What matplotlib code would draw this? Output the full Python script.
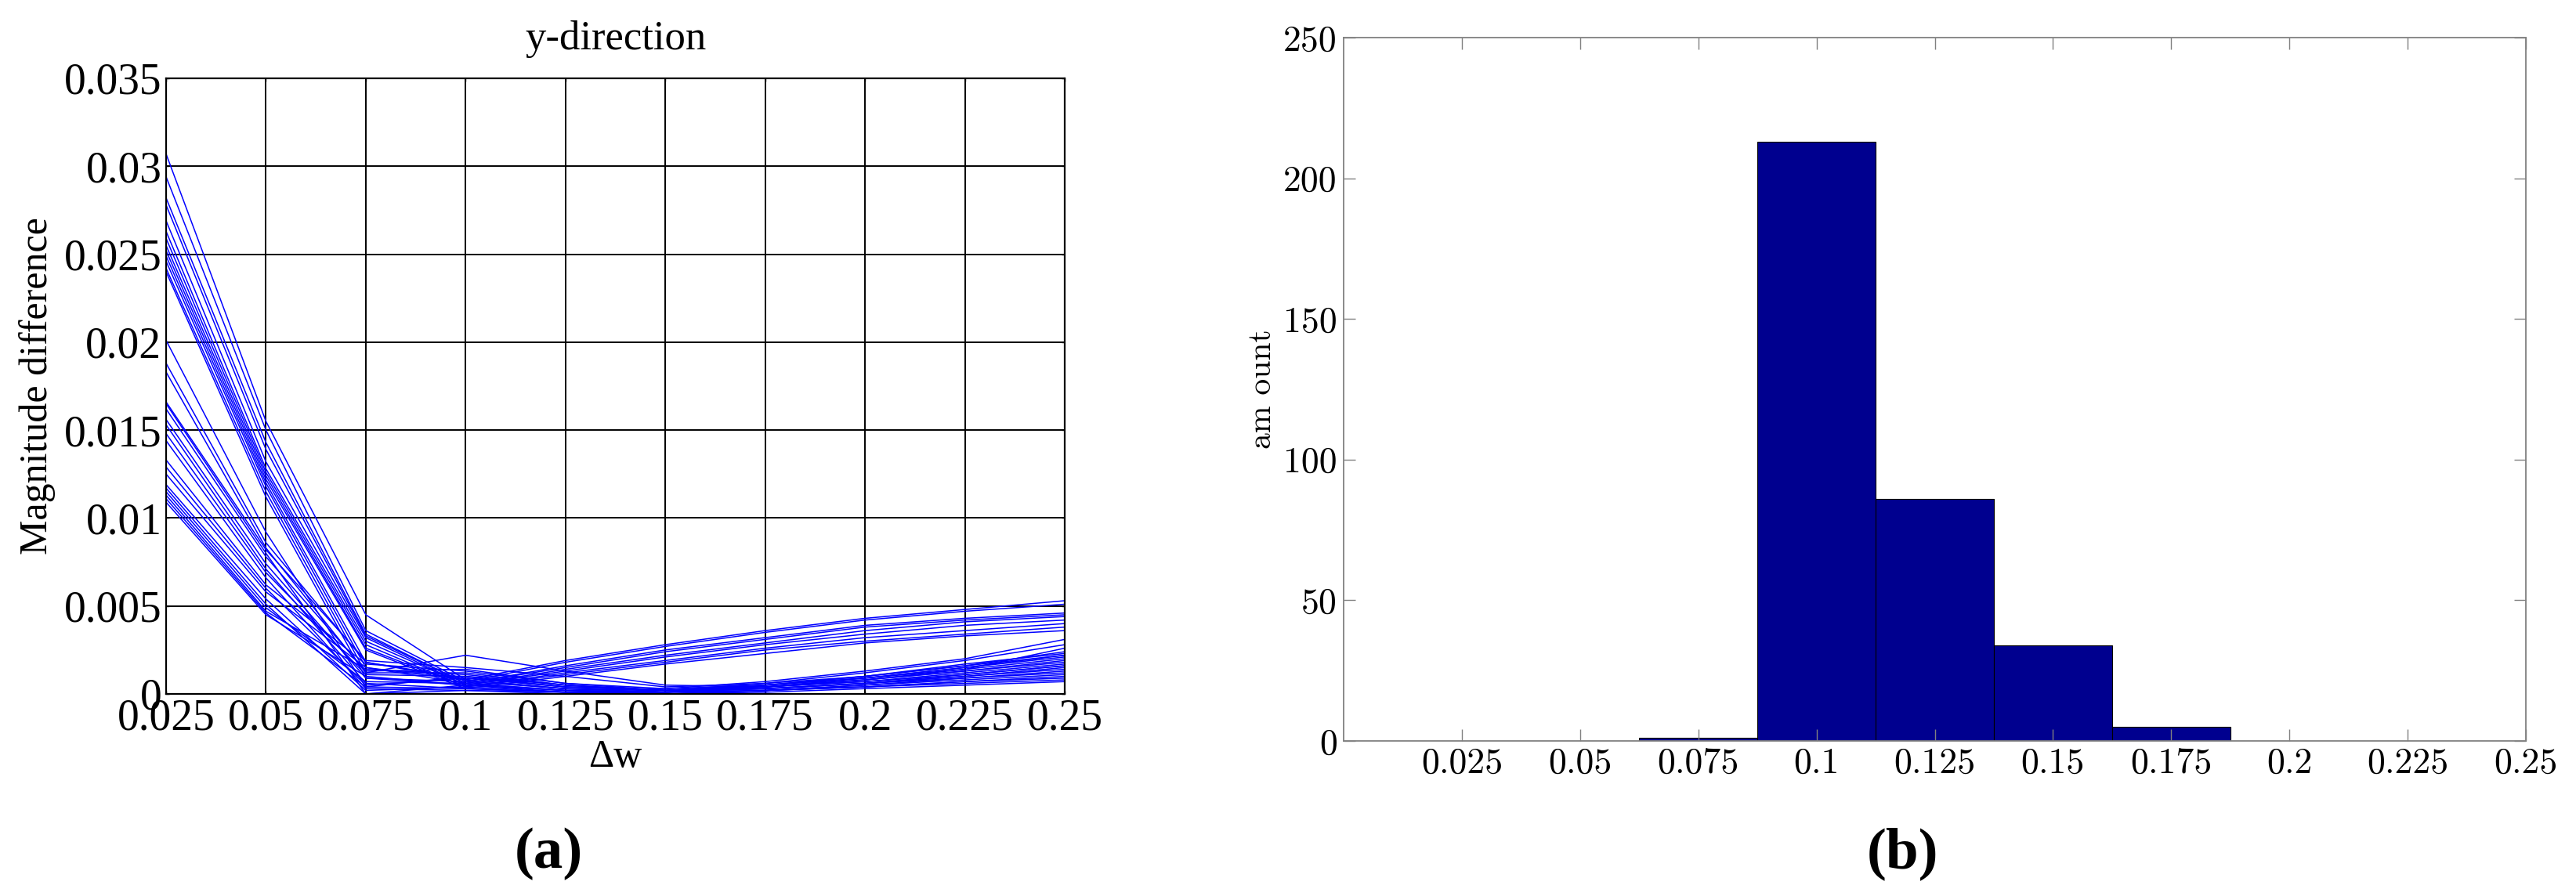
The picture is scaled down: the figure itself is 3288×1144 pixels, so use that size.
import numpy as np
import matplotlib
matplotlib.use("Agg")
import matplotlib.pyplot as plt

# ---- data (a): magnitude difference curves, values in units of 1e-3 ----
dw = [0.025, 0.05, 0.075, 0.1, 0.125, 0.15, 0.175, 0.2, 0.225, 0.25]
mag_diff_e3 = [
    [30.7, 15.5, 4.5, 0.8, 1.9, 2.8, 3.6, 4.3, 4.8, 5.3],
    [29.4, 15.0, 3.6, 0.7, 1.8, 2.7, 3.5, 4.2, 4.7, 5.1],
    [28.2, 14.3, 3.4, 0.6, 1.6, 2.5, 3.2, 3.9, 4.3, 4.6],
    [27.8, 13.9, 3.3, 0.6, 1.5, 2.4, 3.1, 3.8, 4.2, 4.5],
    [26.9, 13.2, 3.2, 0.5, 1.4, 2.2, 2.9, 3.6, 4.1, 4.4],
    [26.3, 12.8, 3.0, 0.5, 1.3, 2.1, 2.8, 3.4, 3.9, 4.2],
    [25.9, 12.6, 2.8, 0.4, 1.2, 1.9, 2.6, 3.2, 3.6, 4.0],
    [25.5, 12.4, 2.6, 0.4, 1.1, 1.8, 2.5, 3.0, 3.4, 3.8],
    [25.2, 12.2, 2.5, 0.3, 1.0, 1.7, 2.3, 2.9, 3.3, 3.6],
    [24.9, 12.0, 1.8, 0.9, 0.4, 0.2, 0.6, 1.2, 1.9, 2.8],
    [24.6, 11.8, 1.5, 0.6, 0.2, 0.3, 0.7, 1.3, 2.0, 3.1],
    [24.2, 11.5, 1.2, 1.2, 0.5, 0.1, 0.4, 0.9, 1.5, 2.2],
    [24.0, 11.2, 0.9, 0.7, 0.3, 0.1, 0.5, 1.0, 1.6, 2.4],
    [20.1, 9.2, 0.4, 1.0, 0.5, 0.2, 0.5, 0.9, 1.4, 2.0],
    [18.8, 8.6, 1.8, 0.8, 0.3, 0.1, 0.4, 0.8, 1.3, 1.8],
    [18.3, 8.3, 1.2, 2.2, 1.3, 0.5, 0.4, 0.7, 1.1, 1.6],
    [16.5, 8.0, 0.0, 0.5, 0.1, 0.0, 0.2, 0.5, 0.9, 1.3],
    [16.2, 7.8, 1.3, 1.4, 0.6, 0.2, 0.3, 0.6, 1.0, 1.5],
    [15.6, 7.4, 0.9, 0.5, 0.2, 0.0, 0.2, 0.4, 0.7, 1.0],
    [15.3, 7.1, 0.6, 0.3, 0.1, 0.1, 0.3, 0.6, 0.9, 1.2],
    [14.8, 6.9, 1.1, 1.0, 0.4, 0.2, 0.4, 0.7, 1.2, 1.7],
    [14.4, 6.6, 0.3, 0.2, 0.0, 0.1, 0.2, 0.4, 0.6, 0.8],
    [13.3, 6.2, 1.7, 1.3, 0.6, 0.3, 0.5, 0.9, 1.5, 2.1],
    [12.5, 5.8, 1.5, 0.8, 0.3, 0.2, 0.4, 0.8, 1.3, 1.9],
    [12.9, 6.0, 0.5, 0.9, 0.4, 0.2, 0.5, 1.0, 1.7, 2.3],
    [11.9, 5.4, 0.2, 0.4, 0.1, 0.0, 0.1, 0.3, 0.5, 0.7],
    [11.7, 5.1, 0.0, 0.2, 0.1, 0.1, 0.3, 0.6, 1.0, 1.4],
    [11.5, 4.9, 0.7, 0.6, 0.2, 0.1, 0.2, 0.5, 0.8, 1.1],
    [11.3, 4.7, 1.4, 1.1, 0.5, 0.2, 0.3, 0.6, 1.1, 1.6],
    [11.1, 4.6, 0.4, 0.3, 0.1, 0.0, 0.2, 0.4, 0.7, 0.9],
    [10.9, 4.5, 1.0, 0.5, 0.2, 0.1, 0.4, 0.8, 1.4, 2.6],
    [16.6, 8.2, 1.9, 1.5, 1.0, 0.4, 0.6, 1.0, 1.6, 2.2],
]
left_xticklabels = ['0.025', '0.05', '0.075', '0.1', '0.125', '0.15',
                    '0.175', '0.2', '0.225', '0.25']
left_yticks = [0, 0.005, 0.01, 0.015, 0.02, 0.025, 0.03, 0.035]
left_yticklabels = ['0', '0.005', '0.01', '0.015', '0.02', '0.025', '0.03', '0.035']

# ---- data (b): histogram of amounts ----
bin_centers = [0.075, 0.1, 0.125, 0.15, 0.175]
bin_counts = [1, 213, 86, 34, 5]
bin_width = 0.025
right_xticks = [0.025, 0.05, 0.075, 0.1, 0.125, 0.15, 0.175, 0.2, 0.225, 0.25]
right_xticklabels = ['0.025', '0.05', '0.075', '0.1', '0.125', '0.15',
                     '0.175', '0.2', '0.225', '0.25']
right_yticks = [0, 50, 100, 150, 200, 250]

W, H = 3288, 1144
fig = plt.figure(figsize=(W / 100, H / 100), dpi=100)

# ---------------- panel (a) ----------------
ax1 = fig.add_axes([212 / W, 1 - 886 / H, (1359 - 212) / W, (886 - 100) / H])
for row in mag_diff_e3:
    ax1.plot(dw, np.array(row) / 1000.0, color='#0000FF', lw=1.1)
ax1.set_xlim(0.025, 0.25)
ax1.set_ylim(0, 0.035)
ax1.set_xticks(dw)
ax1.set_xticklabels(left_xticklabels)
ax1.set_yticks(left_yticks)
ax1.set_yticklabels(left_yticklabels)
ax1.set_axisbelow(True)
ax1.grid(True, color='black', lw=1.4)
for sp in ax1.spines.values():
    sp.set_color('black')
    sp.set_linewidth(1.6)
ax1.tick_params(direction='in', length=3, width=1, top=True, right=True,
                pad=4, labelsize=40)
for lab in ax1.get_xticklabels() + ax1.get_yticklabels():
    lab.set_family('Liberation Serif')
ax1.set_title('y-direction', family='Liberation Serif', fontsize=38, pad=27)
ax1.set_xlabel('\u0394w', family='Liberation Serif', fontsize=36, labelpad=0)
ax1.set_ylabel('Magnitude difference', family='Liberation Serif',
               fontsize=36, labelpad=8)

# ---------------- panel (b) ----------------
gray = '#808080'
ax2 = fig.add_axes([1715 / W, 1 - 946 / H, (3224 - 1715) / W, (946 - 48) / H])
ax2.bar(bin_centers, bin_counts, width=bin_width, color='#00008F',
        edgecolor='black', linewidth=0.8)
ax2.set_xlim(0, 0.25)
ax2.set_ylim(0, 250)
ax2.set_xticks(right_xticks)
ax2.set_xticklabels(right_xticklabels)
ax2.set_yticks(right_yticks)
for sp in ax2.spines.values():
    sp.set_color(gray)
    sp.set_linewidth(1.3)
ax2.tick_params(direction='in', length=11, width=1, color=gray,
                top=True, right=True, pad=6, labelsize=33)
for lab in ax2.get_xticklabels() + ax2.get_yticklabels():
    lab.set_family('cmr10')
ax2.set_ylabel('am ount', family='cmr10', fontsize=30, labelpad=6)

# panel letters
fig.text(700 / W, 1 - 1090 / H, '(a)', family='Liberation Serif',
         fontweight='bold', fontsize=54, ha='center', va='center')
fig.text(2428 / W, 1 - 1090 / H, '(b)', family='Liberation Serif',
         fontweight='bold', fontsize=54, ha='center', va='center')

fig.savefig('out.png', dpi=100)
